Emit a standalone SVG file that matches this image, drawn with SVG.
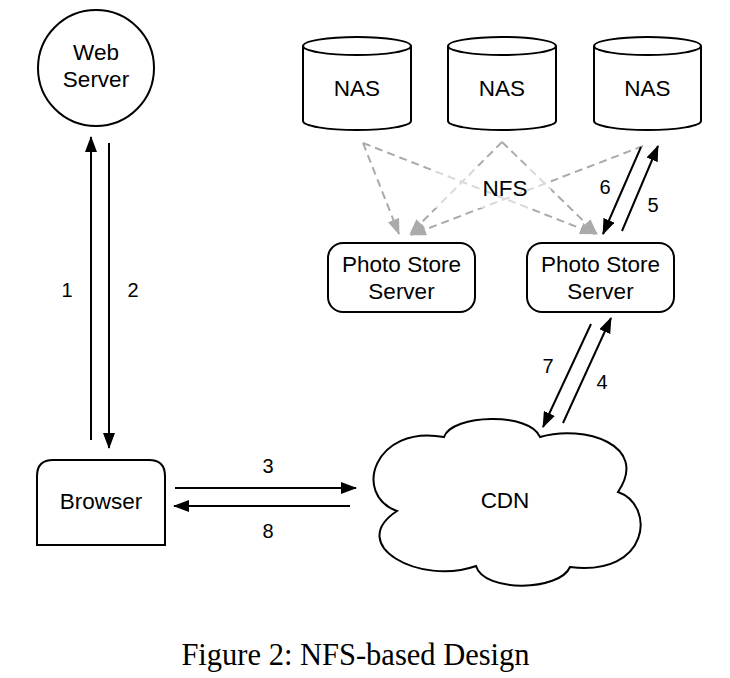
<svg xmlns="http://www.w3.org/2000/svg" width="730" height="678" viewBox="0 0 730 678">
<defs>
<style>
.shape{fill:#fff;stroke:#000;stroke-width:2}
.t{font-family:"Liberation Sans",Arial,sans-serif;font-size:22.5px;fill:#000;text-anchor:middle}
.n{font-family:"Liberation Sans",Arial,sans-serif;font-size:20px;fill:#000;text-anchor:middle}
.blk{stroke:#000;stroke-width:2;fill:none;marker-end:url(#ab)}
.gry{stroke:#aaa;stroke-width:2;fill:none;stroke-dasharray:8 5;marker-end:url(#ag)}
.cap{font-family:"Liberation Serif","Times New Roman",serif;font-size:30.5px;fill:#000;text-anchor:middle}
</style>
<marker id="ab" viewBox="0 0 16 12" refX="15" refY="6" markerWidth="16" markerHeight="12" markerUnits="userSpaceOnUse" orient="auto">
<path d="M0,0 L16,6 L0,12 Z" fill="#000"/>
</marker>
<marker id="ag" viewBox="0 0 16 12" refX="15" refY="6" markerWidth="16" markerHeight="12" markerUnits="userSpaceOnUse" orient="auto">
<path d="M0,0 L16,6 L0,12 Z" fill="#aaa"/>
</marker>
</defs>
<rect width="730" height="678" fill="#fff"/>

<g id="connectors">
<line class="gry" x1="363" y1="143" x2="399" y2="234"/>
<line class="gry" x1="363" y1="143" x2="595" y2="234"/>
<line class="gry" x1="502" y1="142" x2="410" y2="234"/>
<line class="gry" x1="502" y1="142" x2="597" y2="234"/>
<line class="gry" x1="643" y1="146" x2="411" y2="235"/>
<rect x="433" y="166" width="118" height="42" fill="#fff" fill-opacity="0.55"/>
<line class="blk" x1="91" y1="440" x2="91" y2="137"/>
<line class="blk" x1="109" y1="143" x2="109" y2="448"/>
<line class="blk" x1="175" y1="488" x2="356" y2="488"/>
<line class="blk" x1="350" y1="506" x2="174" y2="506"/>
<line class="blk" x1="641" y1="147" x2="603" y2="234"/>
<line class="blk" x1="622" y1="231" x2="658" y2="146"/>
<line class="blk" x1="591" y1="324" x2="543" y2="427"/>
<line class="blk" x1="563" y1="423" x2="611" y2="318"/>
<text class="n" x="67" y="297">1</text>
<text class="n" x="133" y="297">2</text>
<text class="n" x="268" y="473">3</text>
<text class="n" x="268" y="538">8</text>
<text class="n" x="602" y="389">4</text>
<text class="n" x="653" y="212">5</text>
<text class="n" x="605" y="194">6</text>
<text class="n" x="548" y="373">7</text>
<text class="t" x="505" y="196">NFS</text>
</g>

<g id="web-server">
<circle class="shape" cx="96" cy="68" r="58"/>
<text class="t" x="96" y="60">Web</text>
<text class="t" x="96" y="87">Server</text>
</g>

<g id="browser">
<path class="shape" d="M37,545 V476 Q37,460 53,460 H149 Q165,460 165,476 V545 Z"/>
<text class="t" x="101" y="509">Browser</text>
</g>

<g id="nas1">
<path class="shape" d="M303,46 V121 A54,9 0 0 0 411,121 V46"/>
<ellipse class="shape" cx="357" cy="46" rx="54" ry="9"/>
<text class="t" x="357" y="96">NAS</text>
</g>
<g id="nas2">
<path class="shape" d="M448,46 V121 A54,9 0 0 0 556,121 V46"/>
<ellipse class="shape" cx="502" cy="46" rx="54" ry="9"/>
<text class="t" x="502" y="96">NAS</text>
</g>
<g id="nas3">
<path class="shape" d="M594,46 V121 A53.5,9 0 0 0 701,121 V46"/>
<ellipse class="shape" cx="647.5" cy="46" rx="53.5" ry="9"/>
<text class="t" x="647.5" y="96">NAS</text>
</g>

<g id="photo-store-1">
<rect class="shape" x="328" y="243" width="147" height="69" rx="15"/>
<text class="t" x="401.5" y="272">Photo Store</text>
<text class="t" x="401.5" y="299">Server</text>
</g>
<g id="photo-store-2">
<rect class="shape" x="527" y="243" width="147" height="69" rx="15"/>
<text class="t" x="600.5" y="272">Photo Store</text>
<text class="t" x="600.5" y="299">Server</text>
</g>

<g id="cdn">
<path class="shape" d="M444,437 C452,414 530,412 540,437 C584,424 650,445 618,492 C656,505 650,577 570,567 C560,591 484,593 476,566 C420,586 345,545 397,511 C352,495 374,424 444,437 Z"/>
<text class="t" x="505" y="508">CDN</text>
</g>

<text class="cap" x="355.5" y="665">Figure 2: NFS-based Design</text>
</svg>
